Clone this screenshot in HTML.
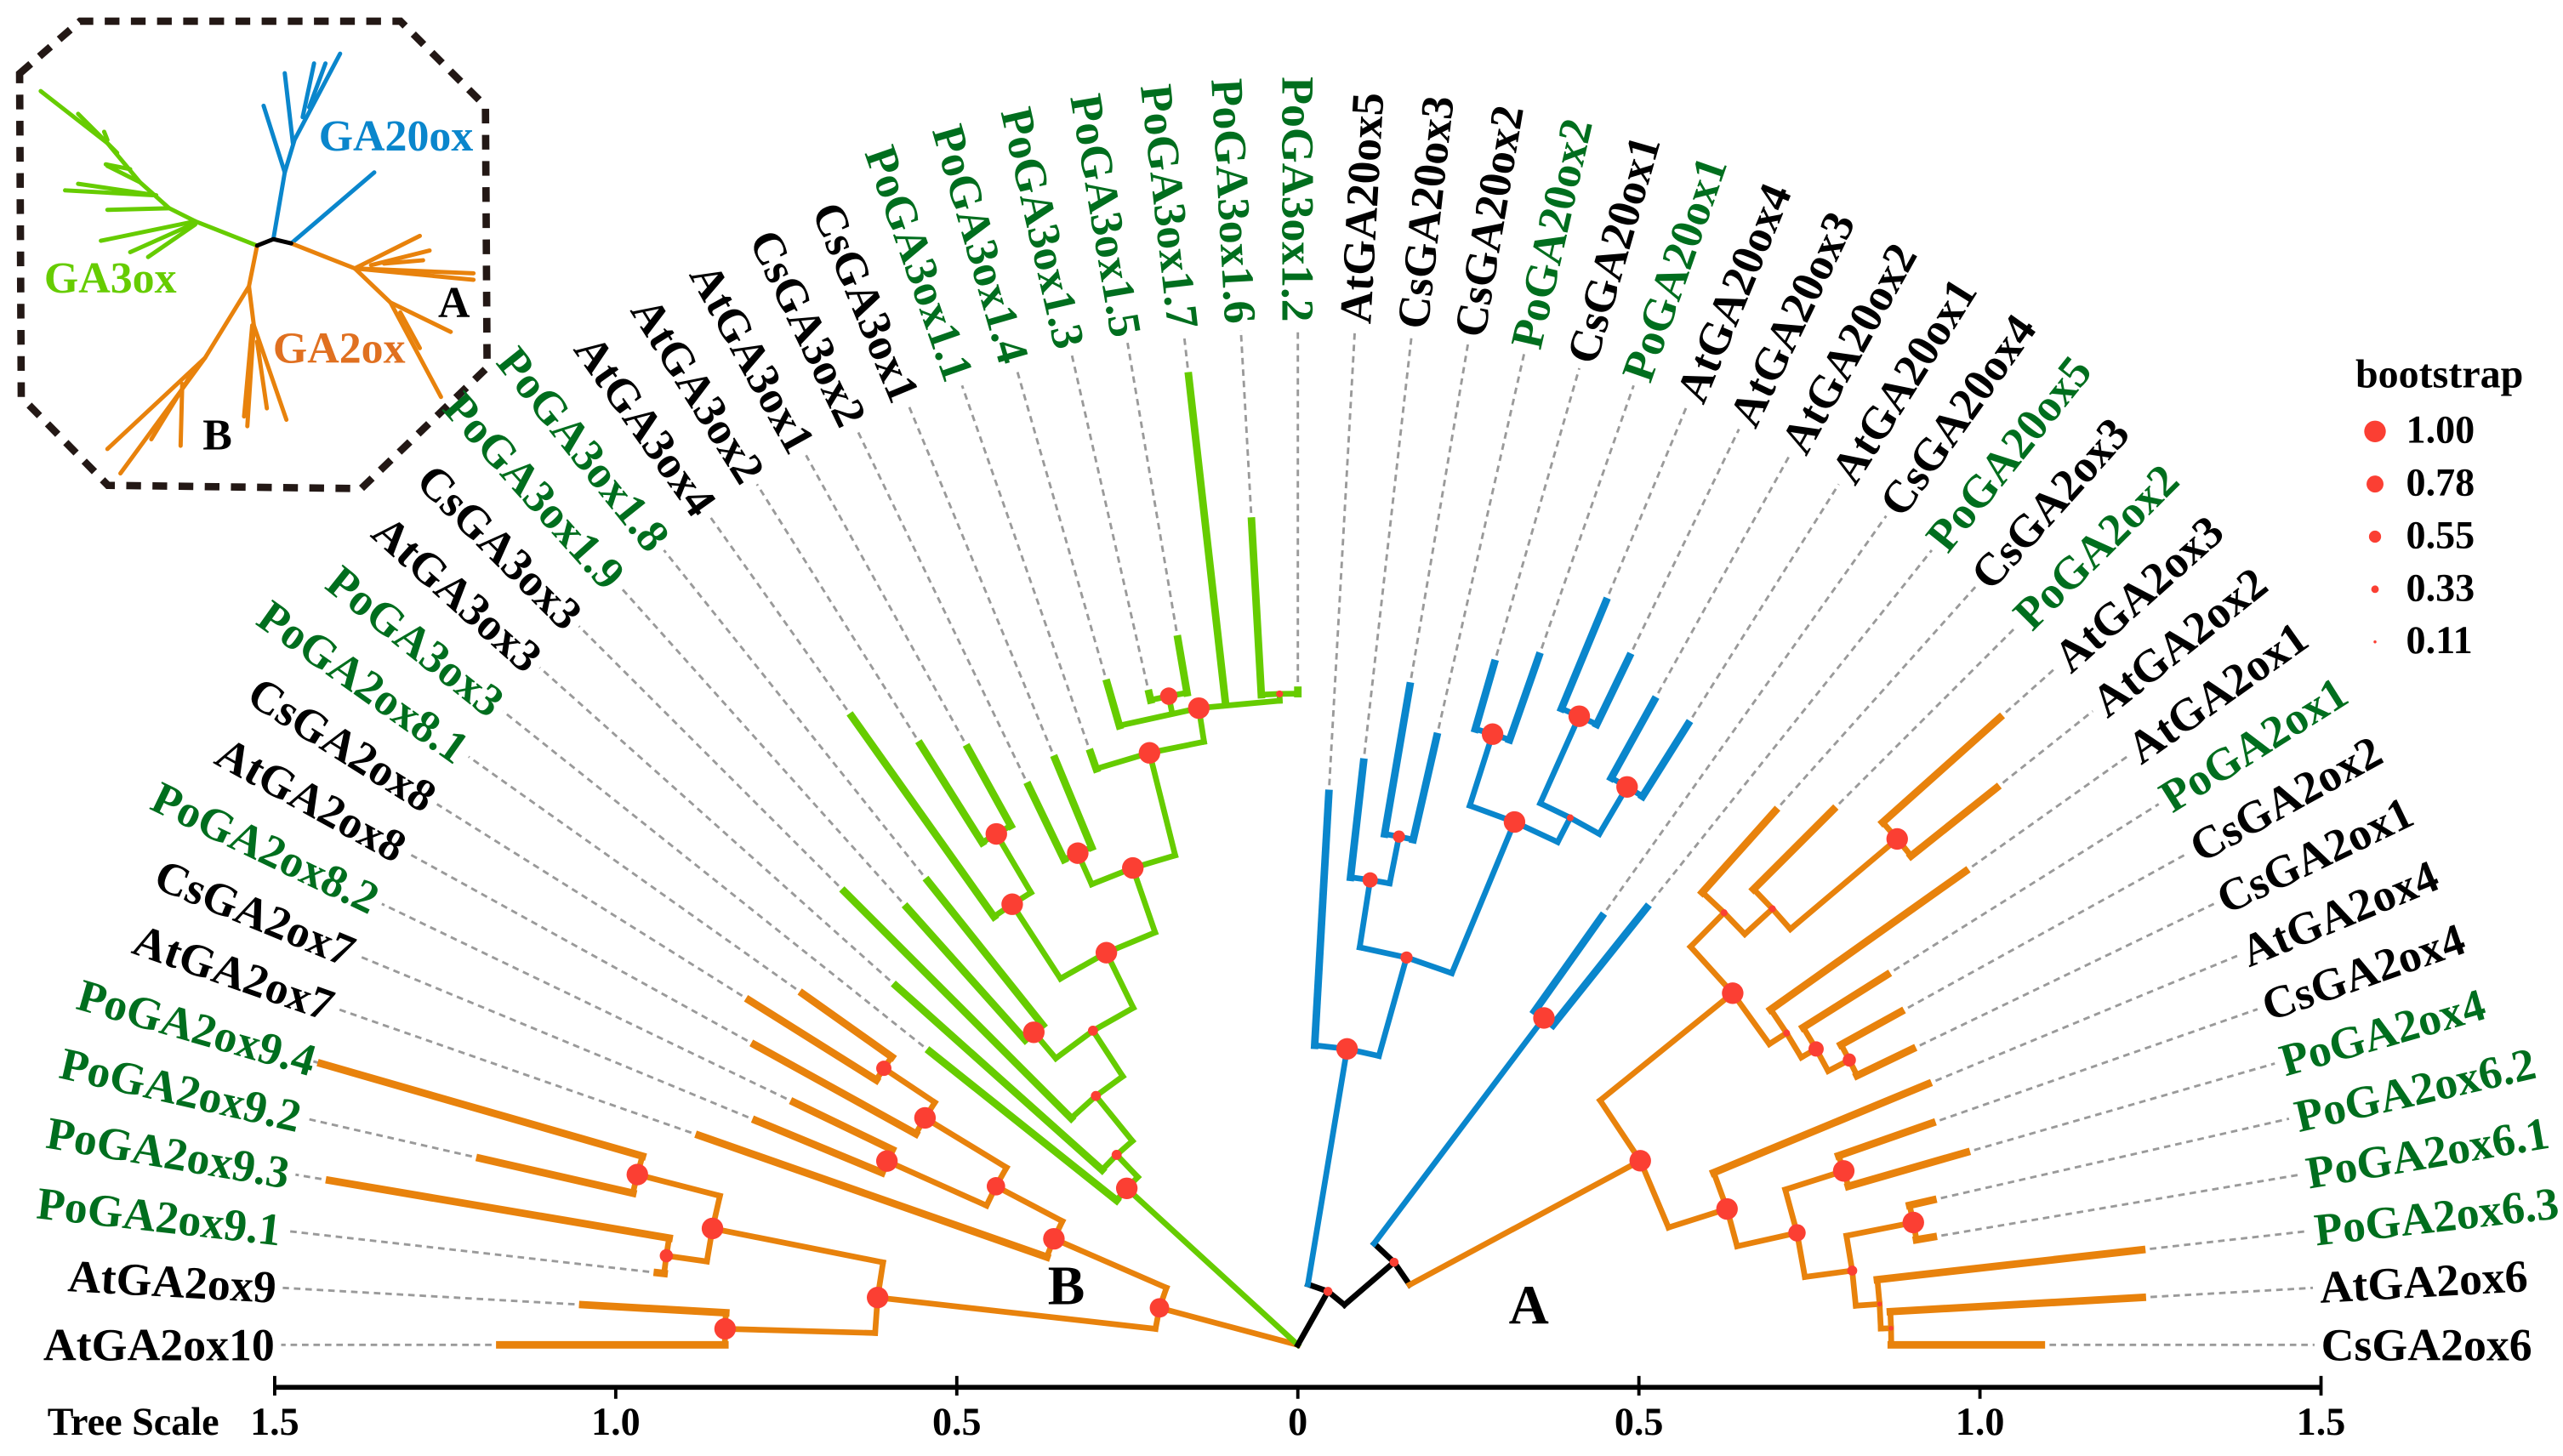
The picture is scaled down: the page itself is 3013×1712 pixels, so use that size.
<!DOCTYPE html>
<html><head><meta charset="utf-8"><style>
html,body{margin:0;padding:0;background:#fff;}
svg{display:block;}
text{font-family:"Liberation Serif",serif;font-weight:bold;}
</style></head><body>
<svg id="chart" xmlns="http://www.w3.org/2000/svg" width="3013" height="1712" viewBox="0 0 1568 891" preserveAspectRatio="none">
<g id="inset">
<polygon points="12,45 49,13 245,13 297,65 298,225 221,299 66,297 13,243" fill="none" stroke="#231815" stroke-width="4.5" stroke-dasharray="9,7"/>
<g transform="scale(0.1991)" fill="none" stroke-linecap="round" stroke-linejoin="round" stroke-width="13">
<g stroke="#66cc00">
<polyline points="790,755 600,680 520,640 430,560 330,440 125,280"/>
<polyline points="600,680 310,740"/><polyline points="590,690 400,775"/><polyline points="600,690 455,790"/>
<polyline points="520,640 330,645"/><polyline points="470,600 200,585"/><polyline points="480,600 240,565"/>
<polyline points="430,560 330,510"/><polyline points="400,520 325,505"/><polyline points="360,470 240,350"/><polyline points="330,430 320,405"/>
</g>
<g stroke="#0a86cc">
<polyline points="840,735 875,530 905,430 1045,165"/><polyline points="875,530 810,325"/><polyline points="900,440 875,225"/>
<polyline points="930,360 965,195"/><polyline points="950,330 1000,195"/><polyline points="895,748 1150,530"/>
</g>
<g stroke="#e8820c">
<polyline points="895,748 1090,825 1455,840"/><polyline points="1090,825 1455,860"/><polyline points="1090,825 1290,725"/>
<polyline points="1140,815 1320,770"/><polyline points="1180,810 1300,800"/><polyline points="1090,825 1200,930 1385,1020"/>
<polyline points="1200,930 1355,1220"/><polyline points="1230,960 1290,1070"/>
<polyline points="790,755 765,880 630,1100 330,1380"/><polyline points="630,1100 370,1455"/><polyline points="560,1180 555,1370"/>
<polyline points="600,1130 465,1350"/><polyline points="765,880 780,1000 880,1290"/><polyline points="780,1000 760,1310"/>
<polyline points="790,1050 820,1255"/><polyline points="775,1000 750,1280"/>
</g>
<polyline points="790,755 840,735 895,748" stroke="#000"/>
</g>
<text x="195" y="92" font-size="27" fill="#0a86cc">GA20ox</text>
<text x="27" y="179" font-size="27" fill="#66cc00">GA3ox</text>
<text x="167" y="222" font-size="27" fill="#e07020">GA2ox</text>
<text x="268" y="194" font-size="27" fill="#000">A</text>
<text x="124" y="275" font-size="27" fill="#000">B</text>
</g>
<g id="leaders"></g>
<g id="branches"></g>
<g id="dots"></g>
<g id="labels"></g>
<text x="641" y="798" font-size="34" fill="#000">B</text>
<text x="923" y="810" font-size="34" fill="#000">A</text>
<g id="axis"></g>
<g id="legend">
<text x="1441" y="237" font-size="25" fill="#000">bootstrap</text>
</g>
</svg>
<script>
const leafNames = ["AtGA2ox10","AtGA2ox9","PoGA2ox9.1","PoGA2ox9.3","PoGA2ox9.2","PoGA2ox9.4","AtGA2ox7","CsGA2ox7","PoGA2ox8.2","AtGA2ox8","CsGA2ox8","PoGA2ox8.1",
"PoGA3ox3","AtGA3ox3","CsGA3ox3","PoGA3ox1.9","PoGA3ox1.8","AtGA3ox4","AtGA3ox2","AtGA3ox1","CsGA3ox2","CsGA3ox1","PoGA3ox1.1","PoGA3ox1.4","PoGA3ox1.3","PoGA3ox1.5","PoGA3ox1.7","PoGA3ox1.6","PoGA3ox1.2",
"AtGA20ox5","CsGA20ox3","CsGA20ox2","PoGA20ox2","CsGA20ox1","PoGA20ox1","AtGA20ox4","AtGA20ox3","AtGA20ox2","AtGA20ox1","CsGA20ox4","PoGA20ox5",
"CsGA2ox3","PoGA2ox2","AtGA2ox3","AtGA2ox2","AtGA2ox1","PoGA2ox1","CsGA2ox2","CsGA2ox1","AtGA2ox4","CsGA2ox4","PoGA2ox4","PoGA2ox6.2","PoGA2ox6.1","PoGA2ox6.3","AtGA2ox6","CsGA2ox6"];
const leafDist = [1.17,1.05,0.945,1.44,1.23,1.49,0.93,0.86,0.82,0.91,0.95,0.89,
0.69,0.79,0.94,0.86,0.87,1.13,1.04,1.00,0.91,0.93,0.92,1.01,0.98,1.05,1.43,1.21,0.96,
0.81,0.86,0.98,0.915,1.04,1.07,1.18,1.12,1.08,1.075,0.77,0.82,
1.05,1.11,1.38,1.31,1.20,1.02,1.01,1.00,1.00,0.985,1.02,0.955,0.945,1.245,1.24,1.09];
const nodeIds = ["root","nB","nB0_5","nB01","nB25","nB23","nB45","nB6_11","nB7_11","nB78","nB9_11","nB1011",
"nG8","nG7","nG6","nG5","nG1516","nG4","nG1719","nG1819","nG3","nG2021","nG2","nG1","nG2425","nG2728",
"nX","nY","nBa","nBa2","nB30_32","nB3132","nB33_38","nB3334","nB35_38","nB3536","nB3738","nBb",
"nA","nA1","nA41_44","nAM","nA4344","nA45_48","nA46_48","nA4748","nA2","nA50_56","nA5051","nA52_56","nA5253","nA54_56","nA5556"];
const nodeChildren = [["nB","nG8","nX"],["nB0_5","nB6_11"],["nB01","nB25"],[0,1],["nB23","nB45"],[2,3],[4,5],[6,"nB7_11"],["nB78","nB9_11"],[7,8],[9,"nB1011"],[10,11],
[12,"nG7"],[13,"nG6"],[14,"nG5"],["nG1516","nG4"],[15,16],["nG1719","nG3"],[17,"nG1819"],[18,19],["nG2021","nG2"],[20,21],[22,"nG1"],[23,"nG2425",26,"nG2728"],[24,25],[27,28],
["nBa","nY"],["nBb","nA"],[29,"nBa2"],["nB30_32","nB33_38"],[30,"nB3132"],[31,32],["nB3334","nB35_38"],[33,34],["nB3536","nB3738"],[35,36],[37,38],[39,40],
["nA1","nA2"],["nA41_44","nA45_48"],[41,"nAM"],[42,"nA4344"],[43,44],[45,"nA46_48"],[46,"nA4748"],[47,48],[49,"nA50_56"],["nA5051","nA52_56"],[50,51],["nA5253","nA54_56"],[52,53],[54,"nA5556"],[55,56]];
const nodeDist = [0,0.21,0.62,0.84,0.875,0.935,1.0,0.39,0.50,0.66,0.64,0.73,
0.34,0.385,0.47,0.55,0.60,0.64,0.77,0.87,0.74,0.79,0.895,0.945,0.97,0.955,
0.09,0.186,0.44,0.59,0.69,0.76,0.83,0.94,0.87,1.01,0.95,0.60,
0.57,0.82,0.89,0.945,1.15,0.85,0.875,0.91,0.66,0.75,0.84,0.82,0.92,0.855,0.87];
const nodeBoot = [0,0.9,1.0,1.0,1.0,0.6,1.0,1.0,0.85,1.0,1.0,0.7,
1.0,0.45,0.45,0.45,1.0,1.0,1.0,1.0,1.0,1.0,1.0,1.0,0.8,0.3,
0.4,0.4,1.0,0.55,0.7,0.55,1.0,1.0,0.3,1.0,1.0,1.0,
1.0,1.0,0.3,0.3,1.0,0.3,0.7,0.6,1.0,0.8,1.0,0.45,1.0,0.2,0.2];
const axisTicks = [-1.5,-1.0,-0.5,0,0.5,1.0,1.5];
const axisTickLabels = ["1.5","1.0","0.5","0","0.5","1.0","1.5"];
const legendValues = [1.00,0.78,0.55,0.33,0.11];
const legendLabels = ["1.00","0.78","0.55","0.33","0.11"];

const NS="http://www.w3.org/2000/svg";
const CX=794, CY=823, U=417.3, RL=626;
const nLeaves=leafNames.length;
function leafAngle(i){return 180 - i*180/(nLeaves-1);}
function pt(r,a){const t=a*Math.PI/180;return [CX+r*U*Math.cos(t), CY-r*U*Math.sin(t)];}
function dotR(b){return 0.9+(b-0.11)/0.89*5.7;}
function mk(tag,attrs,parent){const e=document.createElementNS(NS,tag);for(const k in attrs)e.setAttribute(k,attrs[k]);parent.appendChild(e);return e;}
const idx={};nodeIds.forEach((id,i)=>idx[id]=i);
function isLeaf(c){return typeof c==="number";}
function firstLeaf(c){return isLeaf(c)?c:firstLeaf(nodeChildren[idx[c]][0]);}
function colorOf(c){
  if(c==="root"||c==="nX"||c==="nY")return "#000";
  const l=firstLeaf(c);
  if(l<=11)return "#e8820c"; if(l<=28)return "#66cc00"; if(l<=40)return "#0a86cc"; return "#e8820c";
}
const angCache={};
function angOf(c){
  if(isLeaf(c))return leafAngle(c);
  if(angCache[c]!==undefined)return angCache[c];
  const as=nodeChildren[idx[c]].map(angOf);
  const a=(Math.max(...as)+Math.min(...as))/2; angCache[c]=a; return a;
}
function distOf(c){return isLeaf(c)?leafDist[c]:nodeDist[idx[c]];}
const gB=document.getElementById('branches'), gD=document.getElementById('dots'), gL=document.getElementById('labels'), gLead=document.getElementById('leaders');
function P(p){return p[0].toFixed(2)+","+p[1].toFixed(2);}
nodeIds.forEach((id,i)=>{
  const r=nodeDist[i], a=angOf(id), col=colorOf(id);
  const kids=nodeChildren[i];
  const kAng=kids.map(angOf);
  if(r>0){
    const amin=Math.min(...kAng), amax=Math.max(...kAng);
    const pl=mk('polyline',{points:P(pt(r,amin))+" "+P(pt(r,a))+" "+P(pt(r,amax)),fill:"none",stroke:col,"stroke-width":3.5,"stroke-linejoin":"round","stroke-linecap":"square"},gB);
    
    
  }
  kids.forEach((c,j)=>{
    const ca=kAng[j], cr=distOf(c);
    const ln=mk('line',{x1:pt(r,ca)[0],y1:pt(r,ca)[1],x2:pt(cr,ca)[0],y2:pt(cr,ca)[1],stroke:colorOf(c),"stroke-width":isLeaf(c)?4.6:3.5,"stroke-linecap":"square"},gB);
    
    
  });
  if(r>0){
    const p=pt(r,a);
    const d=mk('circle',{cx:p[0],cy:p[1],r:dotR(nodeBoot[i]),fill:"#fb3f33"},gD);
    
    
  }
});
leafNames.forEach((nm,i)=>{
  const a=leafAngle(i);
  const p1=pt(leafDist[i]+0.012,a), p2=pt((RL-4)/U,a);
  const ld=mk('line',{x1:p1[0],y1:p1[1],x2:p2[0],y2:p2[1],stroke:"#9a9a9a","stroke-width":1.5,"stroke-dasharray":"4,3"},gLead);
  
  
  const p=pt(RL/U,a);
  const right=a<90;
  const t=mk('text',{x:p[0],y:p[1],"font-size":28,fill:nm.startsWith("Po")?"#006e1e":"#000","text-anchor":right?"start":"end","dominant-baseline":"central",transform:"rotate("+(right?-a:180-a)+" "+p[0]+" "+p[1]+")"},gL);
  t.textContent=nm;
  
  
});
const gA=document.getElementById('axis');
const axL=mk('line',{x1:CX-1.5*U,y1:849,x2:CX+1.5*U,y2:849,stroke:"#000","stroke-width":3},gA);


axisTicks.forEach((v,i)=>{
  const x=CX+v*U; const major=Math.abs(v)===1.5||Math.abs(v)===0.5;
  const tk=mk('line',{x1:x,y1:major?842:849,x2:x,y2:major?854:856,stroke:"#000","stroke-width":2},gA);
  
  
  const tl=mk('text',{x:x,y:878,"font-size":24,"text-anchor":"middle",fill:"#000"},gA);
  tl.textContent=axisTickLabels[i];
  
  
});
const ts=mk('text',{x:29,y:878,"font-size":24,fill:"#000"},gA);
ts.textContent="Tree Scale";


const gLg=document.getElementById('legend');
legendValues.forEach((v,i)=>{
  const y=264+i*32.2;
  const c=mk('circle',{cx:1453,cy:y,r:dotR(v),fill:"#fb3f33"},gLg);
  
  
  const t=mk('text',{x:1472,y:y+7,"font-size":24,fill:"#000"},gLg);
  t.textContent=legendLabels[i];
  
  
});
</script>
</body></html>
